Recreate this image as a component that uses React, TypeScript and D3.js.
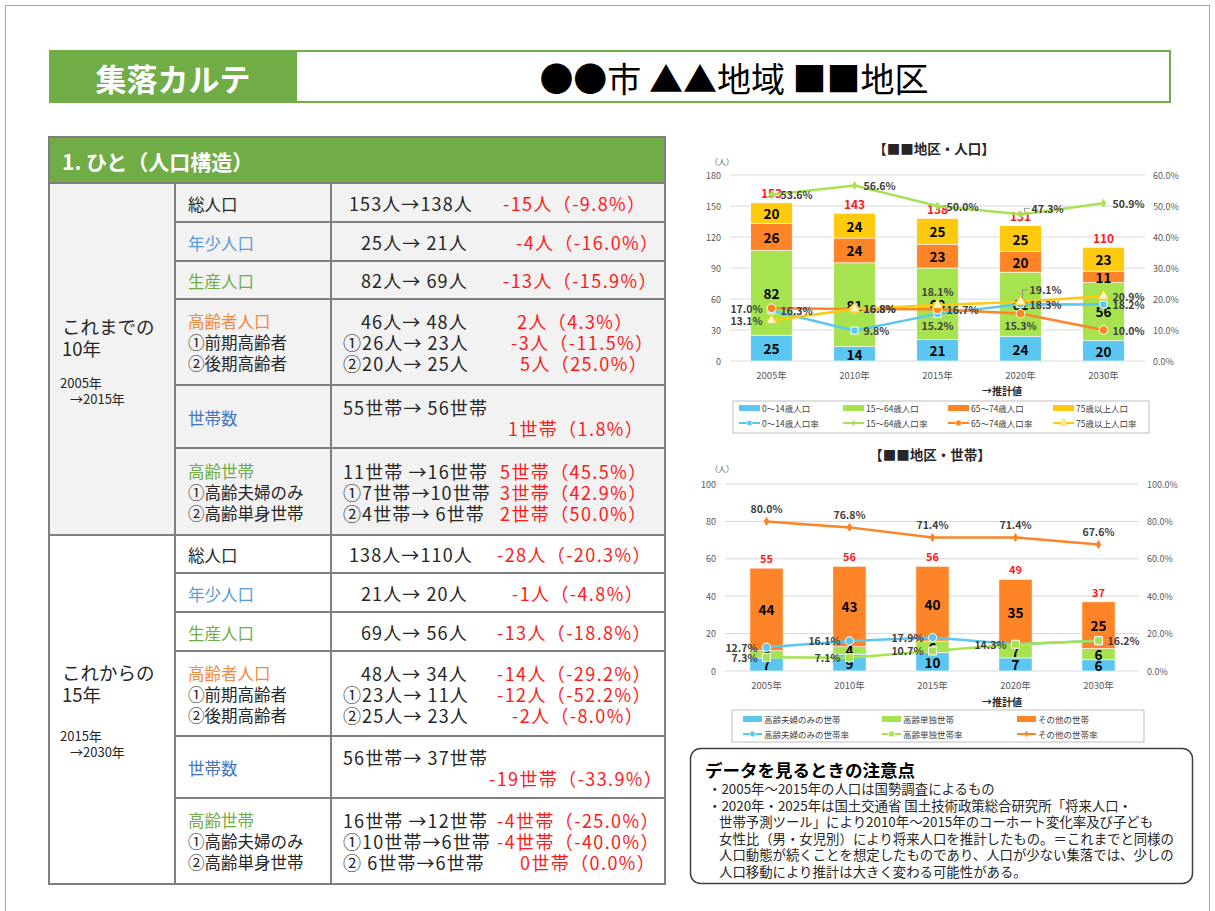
import * as d3 from 'd3';

// ---- chart data ----
const years = ['2005年', '2010年', '2015年', '2020年', '2030年'];

const popYoung = [25, 14, 21, 24, 20];
const popWorking = [82, 81, 69, 62, 56];
const popEarlyOld = [26, 24, 23, 20, 11];
const popLateOld = [20, 24, 25, 25, 23];
const popTotal = [153, 143, 138, 131, 110];
const rateYoung = [0.163, 0.098, 0.152, 0.183, 0.182];
const rateWorking = [0.536, 0.566, 0.5, 0.473, 0.509];
const rateEarlyOld = [0.17, 0.168, 0.167, 0.153, 0.1];
const rateLateOld = [0.131, 0.168, 0.181, 0.191, 0.209];
const popTicks = [0, 30, 60, 90, 120, 150, 180];
const popRateTicks = [0, 0.1, 0.2, 0.3, 0.4, 0.5, 0.6];
const popLegend = ['0～14歳人口', '15～64歳人口', '65～74歳人口', '75歳以上人口'];

const hhCouple = [7, 9, 10, 7, 6];
const hhSingle = [4, 4, 6, 7, 6];
const hhOther = [44, 43, 40, 35, 25];
const hhTotal = [55, 56, 56, 49, 37];
const rateCouple = [0.127, 0.161, 0.179, 0.143, 0.162];
const rateSingle = [0.073, 0.071, 0.107, 0.143, 0.162];
const rateOther = [0.8, 0.768, 0.714, 0.714, 0.676];
const hhTicks = [0, 20, 40, 60, 80, 100];
const hhRateTicks = [0, 0.2, 0.4, 0.6, 0.8, 1];
const hhLegend = ['高齢夫婦のみの世帯', '高齢単独世帯', 'その他の世帯'];

// ---- table text ----
const rowNames = [
  ['総人口'], ['年少人口'], ['生産人口'],
  ['高齢者人口', '①前期高齢者', '②後期高齢者'],
  ['世帯数'],
  ['高齢世帯', '①高齢夫婦のみ', '②高齢単身世帯'],
];
const pastChanges = [
  [['153人→138人', '-15人（-9.8%）']],
  [['25人→ 21人', '-4人（-16.0%）']],
  [['82人→ 69人', '-13人（-15.9%）']],
  [['46人→ 48人', '2人（4.3%）'], ['①26人→ 23人', '-3人（-11.5%）'], ['②20人→ 25人', '5人（25.0%）']],
  [['55世帯→ 56世帯', ''], ['', '1世帯（1.8%）']],
  [['11世帯 →16世帯', '5世帯（45.5%）'], ['①7世帯→10世帯', '3世帯（42.9%）'], ['②4世帯→ 6世帯', '2世帯（50.0%）']],
];
const futureChanges = [
  [['138人→110人', '-28人（-20.3%）']],
  [['21人→ 20人', '-1人（-4.8%）']],
  [['69人→ 56人', '-13人（-18.8%）']],
  [['48人→ 34人', '-14人（-29.2%）'], ['①23人→ 11人', '-12人（-52.2%）'], ['②25人→ 23人', '-2人（-8.0%）']],
  [['56世帯→ 37世帯', ''], ['', '-19世帯（-33.9%）']],
  [['16世帯 →12世帯', '-4世帯（-25.0%）'], ['①10世帯→6世帯', '-4世帯（-40.0%）'], ['② 6世帯→6世帯', '0世帯（0.0%）']],
];
const periodTitles = [['これまでの', '10年'], ['これからの', '15年']];
const periodSpans = [['2005年', '→2015年'], ['2015年', '→2030年']];
const noteLines = [
  '・2005年～2015年の人口は国勢調査によるもの',
  '・2020年・2025年は国土交通省 国土技術政策総合研究所「将来人口・',
  '世帯予測ツール」により2010年～2015年のコーホート変化率及び子ども',
  '女性比（男・女児別）により将来人口を推計したもの。＝これまでと同様の',
  '人口動態が続くことを想定したものであり、人口が少ない集落では、少しの',
  '人口移動により推計は大きく変わる可能性がある。',
];

// ---- layout / style ----
const FONT = '"Noto Sans CJK JP", "Noto Sans", sans-serif';
const SKY = '#5bc6f0';
const LGREEN = '#a6e34f';
const ORANGE = '#fd8427';
const YELLOW = '#ffc90e';
const LABEL = '#404040';
const AXIS = '#595959';
const GRID = '#d9d9d9';
const GREEN = '#70ad47';
const BORDER = '#7f7f7f';
const RED = '#ff1a1a';

const nameColors = ['#262626', '#5b9bd5', '#70ad47', '#f08a3c', '#4472c4', '#70ad47'];
const groupRows = [
  [183, 222, 261, 299, 385, 448, 535],
  [535, 573, 612, 651, 736, 798, 884],
];
const leftX = [
  [[349], [361], [361], [361, 343, 343], [343, 0], [343, 343, 343]],
  [[349], [361], [361], [361, 343, 343], [343, 0], [343, 343, 343]],
];
const rightX = [
  [[503], [516], [503], [517, 511, 520], [0, 508], [500, 500, 500]],
  [[497], [512], [497], [497, 497, 512], [0, 489], [497, 497, 520]],
];

const pct = d3.format('.1%');

function rateLabel(px: number, py: number, code: string | null, text: string, key: string) {
  if (!code) return null;
  let x = px;
  let y = py;
  let anchor = 'start';
  let lead: string | null = null;
  if (code === 'r') x = px + 9;
  else if (code === 'l') { x = px - 9; anchor = 'end'; }
  else if (code === 't') { y = py - 13; anchor = 'middle'; }
  else if (code === 'b') { y = py + 12; anchor = 'middle'; }
  else if (code === 'lead') {
    x = px + 9; y = py - 12;
    lead = `M${px + 2},${py - 4}V${py - 12}H${px + 7}`;
  } else if (code === 'lead2') {
    x = px + 11; y = py - 6;
    lead = `M${px + 4},${py - 2}V${py - 6}H${px + 9}`;
  }
  return (
    <g key={key}>
      {lead && <path d={lead} fill="none" stroke="#7f7f7f" strokeWidth={0.8} />}
      <text x={x} y={y} textAnchor={anchor} dominantBaseline="central"
        fontSize={10.5} fontWeight="bold" fill={LABEL}>{text}</text>
    </g>
  );
}

function PopChart() {
  const x = d3.scaleBand<string>().domain(years).range([730, 1145]).paddingInner(0.5).paddingOuter(0.25);
  const y = d3.scaleLinear().domain([0, 180]).range([361, 175]);
  const yr = d3.scaleLinear().domain([0, 0.6]).range([361, 175]);
  const cx = (i: number) => (x(years[i]) as number) + x.bandwidth() / 2;
  const rows = years.map((yy, i) => ({ a: popYoung[i], b: popWorking[i], c: popEarlyOld[i], d: popLateOld[i] }));
  const stacked = d3.stack<any>().keys(['a', 'b', 'c', 'd'])(rows);
  const colors = [SKY, LGREEN, ORANGE, YELLOW];
  const line = d3.line<number>().x((_, i) => cx(i)).y((d) => yr(d));
  const rates = [rateYoung, rateWorking, rateEarlyOld, rateLateOld];
  const placements = [
    ['r', 'r', 'b', 'r', 'r'],
    ['r', 'r', 'r', 'lead2', 'r'],
    ['l', 'r', 'r', 'b', 'r'],
    ['l', 'r', 't', 'lead', 'r'],
  ];
  const sq = d3.symbol().type(d3.symbolSquare).size(48)() as string;
  const dia = d3.symbol().type(d3.symbolDiamond).size(16)() as string;
  const circ = d3.symbol().type(d3.symbolCircle).size(60)() as string;
  const tri = d3.symbol().type(d3.symbolTriangle).size(50)() as string;
  const markers = [
    { d: sq, fill: SKY, stroke: '#ffffff' },
    { d: dia, fill: LGREEN, stroke: LGREEN },
    { d: circ, fill: ORANGE, stroke: '#ffffff' },
    { d: tri, fill: '#fff6cc', stroke: YELLOW },
  ];
  const legendX = [739, 843, 948, 1053];
  return (
    <g fontFamily={FONT}>
      <text x={934} y={148} textAnchor="middle" dominantBaseline="central" fontSize={13.5} fontWeight="bold" fill="#262626">【■■地区・人口】</text>
      <text x={722} y={161} textAnchor="middle" dominantBaseline="central" fontSize={8} fill={AXIS}>（人）</text>
      {popTicks.map((t) => (
        <g key={t}>
          <line x1={730} x2={1145} y1={y(t)} y2={y(t)} stroke={GRID} strokeWidth={1} />
          <text x={721} y={y(t)} textAnchor="end" dominantBaseline="central" fontSize={9} fill={AXIS}>{t}</text>
        </g>
      ))}
      {popRateTicks.map((t) => (
        <text key={t} x={1153} y={yr(t)} dominantBaseline="central" fontSize={9} fill={AXIS}>{pct(t)}</text>
      ))}
      {stacked.map((s, k) => s.map((d, i) => (
        <rect key={`${k}-${i}`} x={x(years[i])} width={x.bandwidth()} y={y(d[1])} height={y(d[0]) - y(d[1])}
          fill={colors[k]} stroke="#ffffff" strokeWidth={0.6} />
      )))}
      {stacked.map((s, k) => s.map((d, i) => (
        <text key={`v${k}-${i}`} x={cx(i)} y={y((d[0] + d[1]) / 2)} textAnchor="middle" dominantBaseline="central"
          fontSize={13.5} fontWeight="bold" fill="#000">{d[1] - d[0]}</text>
      )))}
      {popTotal.map((t, i) => (
        <text key={`t${i}`} x={cx(i)} y={y(t) - 10} textAnchor="middle" dominantBaseline="central"
          fontSize={12} fontWeight="bold" fill={RED}>{t}</text>
      ))}
      {rates.map((r, k) => (
        <path key={`l${k}`} d={line(r) as string} fill="none" stroke={colors[k]} strokeWidth={2.5} />
      ))}
      {rates.map((r, k) => r.map((v, i) => (
        <path key={`m${k}-${i}`} d={markers[k].d} transform={`translate(${cx(i)},${yr(v)})`}
          fill={markers[k].fill} stroke={markers[k].stroke} strokeWidth={1} />
      )))}
      {rates.map((r, k) => r.map((v, i) => rateLabel(cx(i), yr(v), placements[k][i], pct(v), `rl${k}-${i}`)))}
      {years.map((yy, i) => (
        <text key={yy} x={cx(i)} y={375} textAnchor="middle" dominantBaseline="central" fontSize={9.5} fill={AXIS}>{yy}</text>
      ))}
      <text x={1002} y={390} textAnchor="middle" dominantBaseline="central" fontSize={10} fontWeight="bold" fill="#262626">→推計値</text>
      <rect x={733} y={401} width={416} height={32} fill="none" stroke="#bfbfbf" strokeWidth={1} />
      {popLegend.map((name, k) => (
        <g key={name}>
          <rect x={legendX[k]} y={405} width={21} height={6} fill={colors[k]} />
          <text x={legendX[k] + 23} y={408} dominantBaseline="central" fontSize={8.5} fill={LABEL}>{name}</text>
          <line x1={legendX[k]} x2={legendX[k] + 21} y1={423} y2={423} stroke={colors[k]} strokeWidth={2} />
          <path d={markers[k].d} transform={`translate(${legendX[k] + 10.5},423) scale(0.7)`}
            fill={markers[k].fill} stroke={markers[k].stroke} strokeWidth={1} />
          <text x={legendX[k] + 23} y={423} dominantBaseline="central" fontSize={8.5} fill={LABEL}>{name}率</text>
        </g>
      ))}
    </g>
  );
}

function HhChart() {
  const x = d3.scaleBand<string>().domain(years).range([725, 1140]).paddingInner(0.6).paddingOuter(0.3);
  const y = d3.scaleLinear().domain([0, 100]).range([671, 484]);
  const yr = d3.scaleLinear().domain([0, 1]).range([671, 484]);
  const cx = (i: number) => (x(years[i]) as number) + x.bandwidth() / 2;
  const rows = years.map((yy, i) => ({ a: hhCouple[i], b: hhSingle[i], c: hhOther[i] }));
  const stacked = d3.stack<any>().keys(['a', 'b', 'c'])(rows);
  const colors = [SKY, LGREEN, ORANGE];
  const line = d3.line<number>().x((_, i) => cx(i)).y((d) => yr(d));
  const rates = [rateCouple, rateSingle, rateOther];
  const placements = [
    ['l', 'l', 'l', 'l', 'r'],
    ['l', 'l', 'l', null, null],
    ['t', 't', 't', 't', 't'],
  ];
  const circ = d3.symbol().type(d3.symbolCircle).size(55)() as string;
  const sq = d3.symbol().type(d3.symbolSquare).size(64)() as string;
  const dia = d3.symbol().type(d3.symbolDiamond).size(18)() as string;
  const markers = [
    { d: circ, fill: SKY, stroke: '#ffffff' },
    { d: sq, fill: LGREEN, stroke: '#ffffff' },
    { d: dia, fill: ORANGE, stroke: ORANGE },
  ];
  const legendX = [743, 882, 1017];
  return (
    <g fontFamily={FONT}>
      <text x={930} y={454} textAnchor="middle" dominantBaseline="central" fontSize={13.5} fontWeight="bold" fill="#262626">【■■地区・世帯】</text>
      <text x={722} y={468} textAnchor="middle" dominantBaseline="central" fontSize={8} fill={AXIS}>（人）</text>
      {hhTicks.map((t) => (
        <g key={t}>
          <line x1={725} x2={1139} y1={y(t)} y2={y(t)} stroke={GRID} strokeWidth={1} />
          <text x={716} y={y(t)} textAnchor="end" dominantBaseline="central" fontSize={9} fill={AXIS}>{t}</text>
        </g>
      ))}
      {hhRateTicks.map((t) => (
        <text key={t} x={1147} y={yr(t)} dominantBaseline="central" fontSize={9} fill={AXIS}>{pct(t)}</text>
      ))}
      {stacked.map((s, k) => s.map((d, i) => (
        <rect key={`${k}-${i}`} x={x(years[i])} width={x.bandwidth()} y={y(d[1])} height={y(d[0]) - y(d[1])}
          fill={colors[k]} stroke="#ffffff" strokeWidth={0.6} />
      )))}
      {stacked.map((s, k) => s.map((d, i) => (
        <text key={`v${k}-${i}`} x={cx(i)} y={y((d[0] + d[1]) / 2)} textAnchor="middle" dominantBaseline="central"
          fontSize={13.5} fontWeight="bold" fill="#000">{d[1] - d[0]}</text>
      )))}
      {hhTotal.map((t, i) => (
        <text key={`t${i}`} x={cx(i)} y={y(t) - 10} textAnchor="middle" dominantBaseline="central"
          fontSize={11} fontWeight="bold" fill={RED}>{t}</text>
      ))}
      {rates.map((r, k) => (
        <path key={`l${k}`} d={line(r) as string} fill="none" stroke={colors[k]} strokeWidth={2.5} />
      ))}
      {rates.map((r, k) => r.map((v, i) => (
        <path key={`m${k}-${i}`} d={markers[k].d} transform={`translate(${cx(i)},${yr(v)})`}
          fill={markers[k].fill} stroke={markers[k].stroke} strokeWidth={1} />
      )))}
      {rates.map((r, k) => r.map((v, i) => rateLabel(cx(i), yr(v), placements[k][i], pct(v), `rl${k}-${i}`)))}
      {years.map((yy, i) => (
        <text key={yy} x={cx(i)} y={685} textAnchor="middle" dominantBaseline="central" fontSize={9.5} fill={AXIS}>{yy}</text>
      ))}
      <text x={1002} y={701} textAnchor="middle" dominantBaseline="central" fontSize={10} fontWeight="bold" fill="#262626">→推計値</text>
      <rect x={732} y={710} width={412} height={32} fill="none" stroke="#bfbfbf" strokeWidth={1} />
      {hhLegend.map((name, k) => (
        <g key={name}>
          <rect x={legendX[k]} y={716} width={19} height={6} fill={colors[k]} />
          <text x={legendX[k] + 21} y={719} dominantBaseline="central" fontSize={8.5} fill={LABEL}>{name}</text>
          <line x1={legendX[k]} x2={legendX[k] + 19} y1={734} y2={734} stroke={colors[k]} strokeWidth={2} />
          <path d={markers[k].d} transform={`translate(${legendX[k] + 9.5},734) scale(0.7)`}
            fill={markers[k].fill} stroke={markers[k].stroke} strokeWidth={1} />
          <text x={legendX[k] + 21} y={734} dominantBaseline="central" fontSize={8.5} fill={LABEL}>{name}率</text>
        </g>
      ))}
    </g>
  );
}

function PeopleTable() {
  const colX = [49, 175, 331, 665];
  const changes = [pastChanges, futureChanges];
  return (
    <g fontFamily={FONT} style={{ whiteSpace: 'pre' }}>
      <rect x={49} y={137} width={616} height={46} fill={GREEN} stroke={BORDER} strokeWidth={2} />
      <text x={62} y={161} dominantBaseline="central" fontSize={21} fontWeight="bold" fill="#ffffff">1. ひと（人口構造）</text>
      {groupRows.map((rows, g) => (
        <g key={g}>
          <rect x={colX[0]} y={rows[0]} width={colX[3] - colX[0]} height={rows[6] - rows[0]}
            fill={g === 0 ? '#f2f2f2' : '#ffffff'} stroke={BORDER} strokeWidth={2} />
          <text x={62} y={(g === 0 ? 326 : 672)} dominantBaseline="central" fontSize={18.5} fill="#262626">{periodTitles[g][0]}</text>
          <text x={62} y={(g === 0 ? 348 : 694)} dominantBaseline="central" fontSize={18.5} fill="#262626">{periodTitles[g][1]}</text>
          <text x={60} y={(g === 0 ? 382 : 735)} dominantBaseline="central" fontSize={13} fill="#262626">{periodSpans[g][0]}</text>
          <text x={70} y={(g === 0 ? 398 : 751)} dominantBaseline="central" fontSize={13} fill="#262626">{periodSpans[g][1]}</text>
          {rows.slice(1, 6).map((ry) => (
            <line key={ry} x1={colX[1]} x2={colX[3]} y1={ry} y2={ry} stroke={BORDER} strokeWidth={2} />
          ))}
          {rowNames.map((names, r) => {
            const mid = (rows[r] + rows[r + 1]) / 2;
            const nameYs = names.length === 3 ? [mid - 21, mid, mid + 21] : [mid + 1];
            const vals = changes[g][r];
            const valYs = vals.length === 3 ? [mid - 21, mid, mid + 21] : vals.length === 2 ? [mid - 10, mid + 11] : [mid];
            return (
              <g key={r}>
                {names.map((n, j) => (
                  <text key={n} x={188} y={nameYs[j]} dominantBaseline="central" fontSize={16.5}
                    fill={j === 0 ? nameColors[r] : '#262626'}>{n}</text>
                ))}
                {vals.map((v, j) => (
                  <g key={j}>
                    {v[0] && <text x={leftX[g][r][j]} y={valYs[j]} dominantBaseline="central" fontSize={18}
                      letterSpacing={1.1} fill="#262626">{v[0]}</text>}
                    {v[1] && <text x={rightX[g][r][j]} y={valYs[j]} dominantBaseline="central" fontSize={18}
                      letterSpacing={1.4} fill={RED}>{v[1]}</text>}
                  </g>
                ))}
              </g>
            );
          })}
        </g>
      ))}
      <line x1={colX[1]} x2={colX[1]} y1={183} y2={884} stroke={BORDER} strokeWidth={2} />
      <line x1={colX[2]} x2={colX[2]} y1={183} y2={884} stroke={BORDER} strokeWidth={2} />
    </g>
  );
}

export default function App() {
  return (
    <svg width={1215} height={911} style={{ position: 'absolute', left: 0, top: 0, background: '#ffffff' }}>
      <rect x={0} y={0} width={1215} height={911} fill="#ffffff" />
      <rect x={5.5} y={5.5} width={1204} height={930} fill="none" stroke="#a6a6a6" strokeWidth={1} />
      <g fontFamily={FONT}>
        <rect x={296} y={51} width={874} height={51} fill="#ffffff" stroke={GREEN} strokeWidth={2} />
        <rect x={49} y={50} width={247} height={53} fill={GREEN} />
        <text x={173} y={77} textAnchor="middle" dominantBaseline="central" fontSize={31} fontWeight="bold" fill="#ffffff">集落カルテ</text>
        <text x={734} y={77} textAnchor="middle" dominantBaseline="central" fontSize={34} fill="#000000" style={{ whiteSpace: 'pre' }}>●●市 ▲▲地域 ■■地区</text>
      </g>
      <PeopleTable />
      <PopChart />
      <HhChart />
      <g fontFamily={FONT}>
        <rect x={690.5} y={748.5} width={502} height={135} rx={10} fill="#ffffff" stroke="#404040" strokeWidth={1.5} />
        <text x={705} y={769} dominantBaseline="central" fontSize={17.5} fontWeight="bold" fill="#000000">データを見るときの注意点</text>
        {noteLines.map((t, i) => (
          <text key={i} x={i < 2 ? 708 : 719} y={788 + i * 16.5} dominantBaseline="central" fontSize={13.4} fill="#262626">{t}</text>
        ))}
      </g>
    </svg>
  );
}
